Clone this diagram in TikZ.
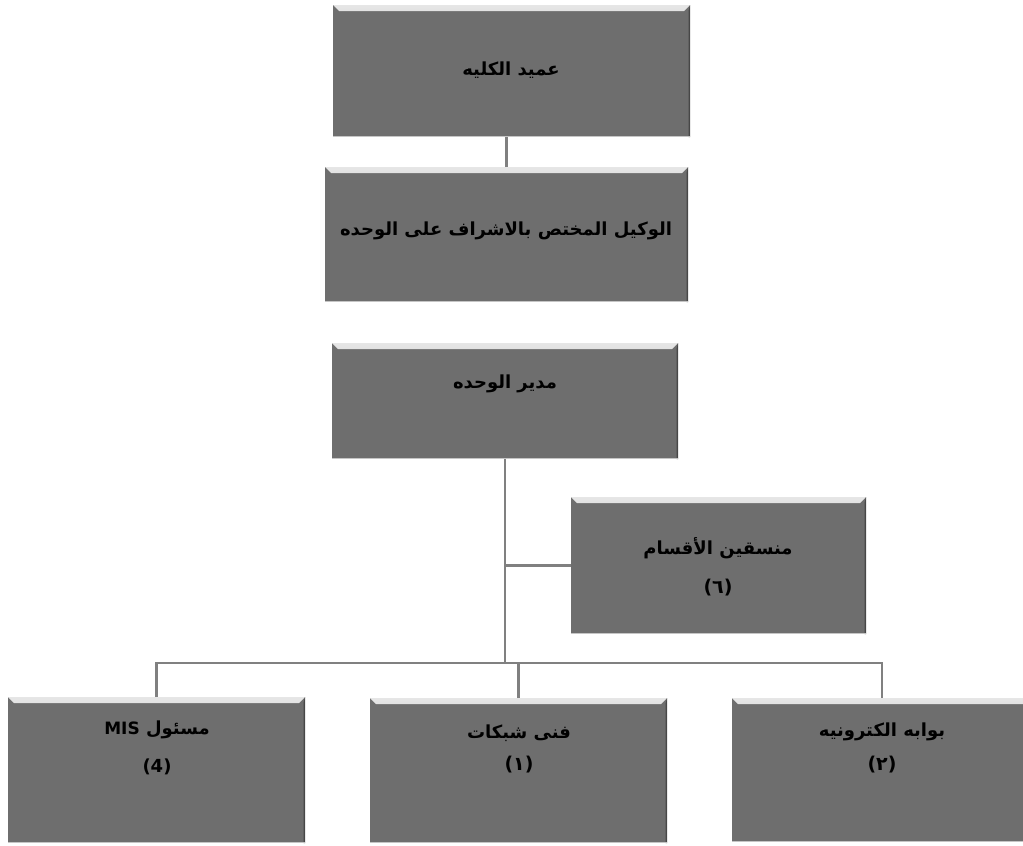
\documentclass[tikz,border=0pt]{standalone}
\usepackage{fontspec}
\TeXXeTstate=1
\newfontfamily\arabicfont[Script=Arabic]{DejaVu Sans}
\newfontfamily\plainfont{DejaVu Sans}
\definecolor{boxgray}{RGB}{110,110,110}
\definecolor{bevlight}{RGB}{230,230,230}
\definecolor{linegray}{RGB}{128,128,128}
\tikzset{
  orgbox/.style 2 args={draw=none, fill=boxgray, inner sep=0pt, outer sep=0pt,
    minimum width=#1pt, minimum height=#2pt,
    path picture={
      \fill[top color=bevlight, bottom color=boxgray!80!white]
        (path picture bounding box.north west) --
        (path picture bounding box.north east) --
        ([xshift=-6pt,yshift=-6pt]path picture bounding box.north east) --
        ([xshift=6pt,yshift=-6pt]path picture bounding box.north west) -- cycle;
      \fill[black!35!boxgray]
        (path picture bounding box.north east) --
        (path picture bounding box.south east) --
        ([xshift=-1.5pt]path picture bounding box.south east) --
        ([xshift=-1.5pt,yshift=-6pt]path picture bounding box.north east) -- cycle;
      \fill[white!60!boxgray]
        (path picture bounding box.south west) rectangle
        ([yshift=1.5pt]path picture bounding box.south east);
    }},
  lbl/.style={text=black, inner sep=0pt, align=center,
    font=\arabicfont\bfseries\fontsize{18}{22}\selectfont},
  num/.style={text=black, inner sep=0pt,
    font=\plainfont\bfseries\fontsize{19}{22}\selectfont},
  conn/.style={draw=linegray, line width=2.5pt}
}
\begin{document}
\begin{tikzpicture}[x=1pt,y=-1pt]
\useasboundingbox (0,0) rectangle (1023,846);
% boxes
\node[orgbox={357}{132}] (b1) at (511.5,71) {};
\node[orgbox={363}{135}] (b2) at (506.5,234.5) {};
\node[orgbox={346}{116}] (b3) at (505,401) {};
\node[orgbox={295}{137}] (b4) at (718.5,565.5) {};
\node[orgbox={297}{146}] (b5) at (156.5,770) {};
\node[orgbox={297}{145}] (b6) at (518.5,770.5) {};
\node[orgbox={300}{144}] (b7) at (882,770) {};
% connectors
\coordinate (bus) at (505,663);
\draw[conn] (b2.north) -- (b2.north |- b1.south);
\draw[conn] (b3.south) -- (b3.south |- bus);
\draw[conn] (b3.south |- b4.west) -- (b4.west);
\draw[conn] (b5.north) -- (b5.north |- bus) -- (b7.north |- bus) -- (b7.north);
\draw[conn] (b6.north) -- (b6.north |- bus);
% labels
\node[lbl] (t1) at (511,70) {\beginR عميد الكليه\endR};
\node[lbl] (t2) at (506,231) {\beginR الوكيل المختص بالاشراف على الوحده\endR};
\node[lbl] (t3) at (505,384) {\beginR مدير الوحده\endR};
\node[lbl] (t4a) at (718,548) {\beginR منسقين الأقسام\endR};
\node[num] (t4b) at (718,588) {(٦)};
\node[lbl] (t5a) at (157,730) {\beginR مسئول \beginL{\plainfont\bfseries\fontsize{17}{22}\selectfont MIS}\endL\endR};
\node[num,font=\plainfont\bfseries\fontsize{18}{22}\selectfont] (t5b) at (157,767) {(4)};
\node[lbl] (t6a) at (519,733) {\beginR فنى شبكات\endR};
\node[num] (t6b) at (519,765) {(١)};
\node[lbl] (t7a) at (882,732) {\beginR بوابه الكترونيه\endR};
\node[num] (t7b) at (882,765) {(٢)};
\end{tikzpicture}
\end{document}
